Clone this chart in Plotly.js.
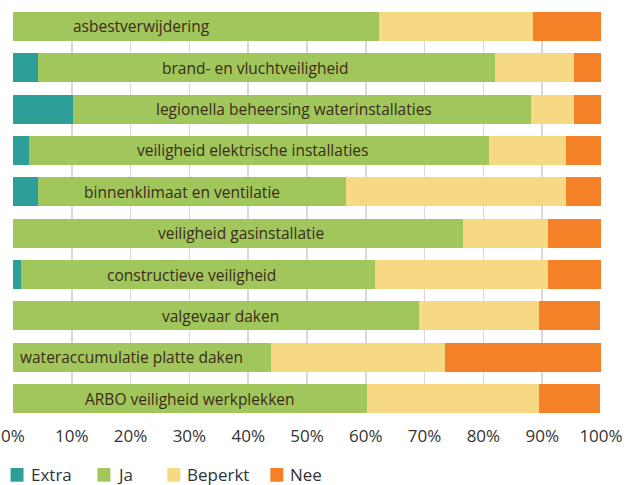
<!DOCTYPE html>
<html>
<head>
<meta charset="utf-8">
<script src="https://cdn.plot.ly/plotly-3.0.1.min.js"></script>
<style>
  html, body { margin: 0; padding: 0; background: #ffffff; }
  #chart { width: 631px; height: 485px; }
</style>
</head>
<body>
<div id="chart"></div>
<script>
// Onderwerpen van de inspectie (van boven naar beneden)
const categories = [
  "asbestverwijdering",
  "brand- en vluchtveiligheid",
  "legionella beheersing waterinstallaties",
  "veiligheid elektrische installaties",
  "binnenklimaat en ventilatie",
  "veiligheid gasinstallatie",
  "constructieve veiligheid",
  "valgevaar daken",
  "wateraccumulatie platte daken",
  "ARBO veiligheid werkplekken"
];

// Aandeel per antwoord (%)
const extra   = [0,    4.3, 10.2,  2.8,  4.3,  0,    1.3,  0,    0,    0];
const ja      = [62.2, 77.7, 77.9, 78.1, 52.3, 76.5, 60.3, 69.0, 43.9, 60.2];
const beperkt = [26.3, 13.4,  7.3, 13.2, 37.5, 14.5, 29.4, 20.5, 29.5, 29.3];
const nee     = [11.5,  4.6,  4.6,  5.9,  5.9,  9.0,  9.0, 10.3, 26.6, 10.3];

const tickVals = [0, 10, 20, 30, 40, 50, 60, 70, 80, 90, 100];
const tickText = ["0%", "10%", "20%", "30%", "40%", "50%", "60%", "70%", "80%", "90%", "100%"];

const seriesNames = ["Extra", "Ja", "Beperkt", "Nee"];
const seriesColors = ["#2c9f98", "#a1c65b", "#f7d984", "#f48027"];
const seriesValues = [extra, ja, beperkt, nee];

const FONT = "Open Sans, sans-serif";

const traces = seriesValues.map((vals, i) => ({
  type: "bar",
  orientation: "h",
  name: seriesNames[i],
  x: vals,
  y: categories,
  marker: { color: seriesColors[i], line: { width: 0 } },
  hoverinfo: "name+x",
  showlegend: false
}));

// Small horizontal nudges (px) for the labels placed over the "Ja" segment
const labelNudge = [-54, -11, -8, -7, -10, 3, -6, 5, -11, 0];

const annotations = categories.map((c, i) => ({
  xref: "x", yref: "y",
  x: extra[i] + ja[i] / 2,
  y: c,
  text: c,
  showarrow: false,
  xanchor: "center",
  yanchor: "middle",
  xshift: labelNudge[i],
  font: { family: FONT, size: 15.5, color: "#3b2c1a" }
}));

// Legend row below the axis: colour swatch + name, in paper coordinates
const legendSwatchX = [-0.0042, 0.1436, 0.2625, 0.4376];
const swatchW = 0.0221;
const swatchY = [-0.1713, -0.1372];
const shapes = [];
seriesNames.forEach((n, i) => {
  shapes.push({
    type: "rect", xref: "paper", yref: "paper",
    x0: legendSwatchX[i], x1: legendSwatchX[i] + swatchW,
    y0: swatchY[0], y1: swatchY[1],
    fillcolor: seriesColors[i], line: { width: 0 }
  });
  annotations.push({
    xref: "paper", yref: "paper",
    x: legendSwatchX[i] + swatchW + 0.0085,
    y: (swatchY[0] + swatchY[1]) / 2,
    text: n,
    showarrow: false,
    xanchor: "left",
    yanchor: "middle",
    font: { family: FONT, size: 17, color: "#333333" }
  });
});

const layout = {
  width: 631,
  height: 485,
  margin: { l: 12.5, r: 30, t: 12, b: 72, pad: 0 },
  paper_bgcolor: "#ffffff",
  plot_bgcolor: "#ffffff",
  barmode: "stack",
  bargap: 0.3,
  showlegend: false,
  xaxis: {
    range: [0, 100],
    tickvals: tickVals,
    ticktext: tickText,
    showgrid: true,
    gridcolor: "#d9d9d9",
    gridwidth: 1.5,
    zeroline: false,
    showline: false,
    ticks: "",
    ticklabelstandoff: 11,
    ticklabeloverflow: "allow",
    automargin: false,
    tickfont: { family: FONT, size: 17, color: "#333333" },
    fixedrange: true
  },
  yaxis: {
    type: "category",
    range: [9.35, -0.35],
    showticklabels: false,
    showgrid: false,
    zeroline: false,
    showline: false,
    ticks: "",
    automargin: false,
    fixedrange: true
  },
  shapes: shapes,
  annotations: annotations
};

Plotly.newPlot("chart", traces, layout, { displayModeBar: false, staticPlot: true });
</script>
</body>
</html>
